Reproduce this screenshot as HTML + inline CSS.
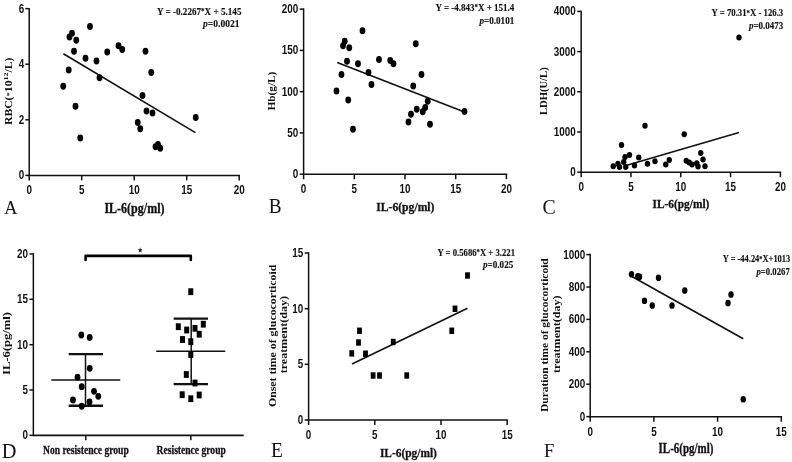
<!DOCTYPE html>
<html><head><meta charset="utf-8"><style>
html,body{margin:0;padding:0;background:#fff;}
svg{display:block;will-change:transform;}
</style></head><body>
<svg width="792" height="462" viewBox="0 0 792 462">
<rect width="792" height="462" fill="#fff"/>
<line x1="29.2" y1="7.9" x2="29.2" y2="176.15" stroke="#111" stroke-width="1.5"/>
<line x1="25.3" y1="8.65" x2="29.2" y2="8.65" stroke="#111" stroke-width="1.5"/>
<text x="24.2" y="12.55" text-anchor="end" style="font-family:'Liberation Sans', sans-serif;font-weight:bold;font-style:normal;font-size:12.8px" fill="#111" textLength="5.5" lengthAdjust="spacingAndGlyphs">6</text>
<line x1="25.3" y1="64.2" x2="29.2" y2="64.2" stroke="#111" stroke-width="1.5"/>
<text x="24.2" y="68.1" text-anchor="end" style="font-family:'Liberation Sans', sans-serif;font-weight:bold;font-style:normal;font-size:12.8px" fill="#111" textLength="5.5" lengthAdjust="spacingAndGlyphs">4</text>
<line x1="25.3" y1="119.8" x2="29.2" y2="119.8" stroke="#111" stroke-width="1.5"/>
<text x="24.2" y="123.7" text-anchor="end" style="font-family:'Liberation Sans', sans-serif;font-weight:bold;font-style:normal;font-size:12.8px" fill="#111" textLength="5.5" lengthAdjust="spacingAndGlyphs">2</text>
<line x1="25.3" y1="175.4" x2="29.2" y2="175.4" stroke="#111" stroke-width="1.5"/>
<text x="24.2" y="179.3" text-anchor="end" style="font-family:'Liberation Sans', sans-serif;font-weight:bold;font-style:normal;font-size:12.8px" fill="#111" textLength="5.5" lengthAdjust="spacingAndGlyphs">0</text>
<line x1="28.45" y1="175.4" x2="239.95" y2="175.4" stroke="#111" stroke-width="1.5"/>
<line x1="29.2" y1="175.4" x2="29.2" y2="180.4" stroke="#111" stroke-width="1.5"/>
<text x="29.2" y="194.4" text-anchor="middle" style="font-family:'Liberation Sans', sans-serif;font-weight:bold;font-style:normal;font-size:12.8px" fill="#111" textLength="5.5" lengthAdjust="spacingAndGlyphs">0</text>
<line x1="81.7" y1="175.4" x2="81.7" y2="180.4" stroke="#111" stroke-width="1.5"/>
<text x="81.7" y="194.4" text-anchor="middle" style="font-family:'Liberation Sans', sans-serif;font-weight:bold;font-style:normal;font-size:12.8px" fill="#111" textLength="5.5" lengthAdjust="spacingAndGlyphs">5</text>
<line x1="134.2" y1="175.4" x2="134.2" y2="180.4" stroke="#111" stroke-width="1.5"/>
<text x="134.2" y="194.4" text-anchor="middle" style="font-family:'Liberation Sans', sans-serif;font-weight:bold;font-style:normal;font-size:12.8px" fill="#111" textLength="11.0" lengthAdjust="spacingAndGlyphs">10</text>
<line x1="186.7" y1="175.4" x2="186.7" y2="180.4" stroke="#111" stroke-width="1.5"/>
<text x="186.7" y="194.4" text-anchor="middle" style="font-family:'Liberation Sans', sans-serif;font-weight:bold;font-style:normal;font-size:12.8px" fill="#111" textLength="11.0" lengthAdjust="spacingAndGlyphs">15</text>
<line x1="239.2" y1="175.4" x2="239.2" y2="180.4" stroke="#111" stroke-width="1.5"/>
<text x="239.2" y="194.4" text-anchor="middle" style="font-family:'Liberation Sans', sans-serif;font-weight:bold;font-style:normal;font-size:12.8px" fill="#111" textLength="11.0" lengthAdjust="spacingAndGlyphs">20</text>
<line x1="63.4" y1="53.7" x2="195.4" y2="132.6" stroke="#111" stroke-width="1.6"/>
<ellipse cx="63.25" cy="86.25" rx="2.9" ry="3.4" fill="#000"/>
<ellipse cx="68.75" cy="70" rx="2.9" ry="3.4" fill="#000"/>
<ellipse cx="69.5" cy="37" rx="2.9" ry="3.4" fill="#000"/>
<ellipse cx="72" cy="33.25" rx="2.9" ry="3.4" fill="#000"/>
<ellipse cx="76.25" cy="40.25" rx="2.9" ry="3.4" fill="#000"/>
<ellipse cx="74" cy="51.25" rx="2.9" ry="3.4" fill="#000"/>
<ellipse cx="75.5" cy="106.25" rx="2.9" ry="3.4" fill="#000"/>
<ellipse cx="90" cy="26.5" rx="2.9" ry="3.4" fill="#000"/>
<ellipse cx="85.5" cy="58.25" rx="2.9" ry="3.4" fill="#000"/>
<ellipse cx="96.5" cy="61" rx="2.9" ry="3.4" fill="#000"/>
<ellipse cx="99.5" cy="77.75" rx="2.9" ry="3.4" fill="#000"/>
<ellipse cx="107.25" cy="52" rx="2.9" ry="3.4" fill="#000"/>
<ellipse cx="118.5" cy="45.75" rx="2.9" ry="3.4" fill="#000"/>
<ellipse cx="122.25" cy="49.5" rx="2.9" ry="3.4" fill="#000"/>
<ellipse cx="145.5" cy="51.25" rx="2.9" ry="3.4" fill="#000"/>
<ellipse cx="151.25" cy="72.5" rx="2.9" ry="3.4" fill="#000"/>
<ellipse cx="142.5" cy="95.5" rx="2.9" ry="3.4" fill="#000"/>
<ellipse cx="146.5" cy="111" rx="2.9" ry="3.4" fill="#000"/>
<ellipse cx="152.5" cy="113" rx="2.9" ry="3.4" fill="#000"/>
<ellipse cx="80.25" cy="138" rx="2.9" ry="3.4" fill="#000"/>
<ellipse cx="137.75" cy="122.5" rx="2.9" ry="3.4" fill="#000"/>
<ellipse cx="140.25" cy="128.75" rx="2.9" ry="3.4" fill="#000"/>
<ellipse cx="155.5" cy="146.75" rx="2.9" ry="3.4" fill="#000"/>
<ellipse cx="158" cy="144.5" rx="2.9" ry="3.4" fill="#000"/>
<ellipse cx="160.25" cy="148.25" rx="2.9" ry="3.4" fill="#000"/>
<ellipse cx="195.75" cy="117.5" rx="2.9" ry="3.4" fill="#000"/>
<text x="4.3" y="214.3" text-anchor="start" style="font-family:'Liberation Serif', serif;font-weight:normal;font-style:normal;font-size:19.5px" fill="#111" textLength="13.2" lengthAdjust="spacingAndGlyphs">A</text>
<text x="104.4" y="212.7" text-anchor="start" style="font-family:'Liberation Serif', serif;font-weight:bold;font-style:normal;font-size:14.2px" fill="#111" textLength="60.1" lengthAdjust="spacingAndGlyphs" stroke="#111" stroke-width="0.3">IL-6(pg/ml)</text>
<text x="156.9" y="14.7" style="font-family:'Liberation Serif', serif;font-weight:bold;font-size:10.6px" fill="#111" stroke="#111" stroke-width="0.15" textLength="84.6" lengthAdjust="spacingAndGlyphs">Y = -0.2267<tspan style="font-size:8px" dy="-0.6">*</tspan><tspan dy="0.6">X + 5.145</tspan></text>
<text x="203" y="27.3" style="font-family:'Liberation Serif', serif;font-weight:bold;font-size:10.6px" fill="#111" stroke="#111" stroke-width="0.15" textLength="36.6" lengthAdjust="spacingAndGlyphs"><tspan style="font-style:italic">p</tspan>=0.0021</text>
<text transform="translate(12.0,91.3) rotate(-90)" text-anchor="middle" style="font-family:'Liberation Serif', serif;font-weight:bold;font-size:9.5px" fill="#111" textLength="67.5" lengthAdjust="spacingAndGlyphs">RBC(<tspan dy="-1" style="font-size:7px">*</tspan><tspan dy="1">10</tspan><tspan dy="-4" style="font-size:6.5px">12</tspan><tspan dy="4">/L)</tspan></text>
<line x1="303.6" y1="8.35" x2="303.6" y2="174.95" stroke="#111" stroke-width="1.5"/>
<line x1="299.7" y1="9.1" x2="303.6" y2="9.1" stroke="#111" stroke-width="1.5"/>
<text x="298.2" y="13.0" text-anchor="end" style="font-family:'Liberation Sans', sans-serif;font-weight:bold;font-style:normal;font-size:12.8px" fill="#111" textLength="16.5" lengthAdjust="spacingAndGlyphs">200</text>
<line x1="299.7" y1="50.4" x2="303.6" y2="50.4" stroke="#111" stroke-width="1.5"/>
<text x="298.2" y="54.3" text-anchor="end" style="font-family:'Liberation Sans', sans-serif;font-weight:bold;font-style:normal;font-size:12.8px" fill="#111" textLength="16.5" lengthAdjust="spacingAndGlyphs">150</text>
<line x1="299.7" y1="91.65" x2="303.6" y2="91.65" stroke="#111" stroke-width="1.5"/>
<text x="298.2" y="95.55" text-anchor="end" style="font-family:'Liberation Sans', sans-serif;font-weight:bold;font-style:normal;font-size:12.8px" fill="#111" textLength="16.5" lengthAdjust="spacingAndGlyphs">100</text>
<line x1="299.7" y1="132.9" x2="303.6" y2="132.9" stroke="#111" stroke-width="1.5"/>
<text x="298.2" y="136.8" text-anchor="end" style="font-family:'Liberation Sans', sans-serif;font-weight:bold;font-style:normal;font-size:12.8px" fill="#111" textLength="11.0" lengthAdjust="spacingAndGlyphs">50</text>
<line x1="299.7" y1="174.2" x2="303.6" y2="174.2" stroke="#111" stroke-width="1.5"/>
<text x="298.2" y="178.1" text-anchor="end" style="font-family:'Liberation Sans', sans-serif;font-weight:bold;font-style:normal;font-size:12.8px" fill="#111" textLength="5.5" lengthAdjust="spacingAndGlyphs">0</text>
<line x1="302.85" y1="174.2" x2="507.15" y2="174.2" stroke="#111" stroke-width="1.5"/>
<line x1="303.6" y1="174.2" x2="303.6" y2="179.2" stroke="#111" stroke-width="1.5"/>
<text x="303.6" y="193.2" text-anchor="middle" style="font-family:'Liberation Sans', sans-serif;font-weight:bold;font-style:normal;font-size:12.8px" fill="#111" textLength="5.5" lengthAdjust="spacingAndGlyphs">0</text>
<line x1="354.3" y1="174.2" x2="354.3" y2="179.2" stroke="#111" stroke-width="1.5"/>
<text x="354.3" y="193.2" text-anchor="middle" style="font-family:'Liberation Sans', sans-serif;font-weight:bold;font-style:normal;font-size:12.8px" fill="#111" textLength="5.5" lengthAdjust="spacingAndGlyphs">5</text>
<line x1="405" y1="174.2" x2="405" y2="179.2" stroke="#111" stroke-width="1.5"/>
<text x="405" y="193.2" text-anchor="middle" style="font-family:'Liberation Sans', sans-serif;font-weight:bold;font-style:normal;font-size:12.8px" fill="#111" textLength="11.0" lengthAdjust="spacingAndGlyphs">10</text>
<line x1="455.7" y1="174.2" x2="455.7" y2="179.2" stroke="#111" stroke-width="1.5"/>
<text x="455.7" y="193.2" text-anchor="middle" style="font-family:'Liberation Sans', sans-serif;font-weight:bold;font-style:normal;font-size:12.8px" fill="#111" textLength="11.0" lengthAdjust="spacingAndGlyphs">15</text>
<line x1="506.4" y1="174.2" x2="506.4" y2="179.2" stroke="#111" stroke-width="1.5"/>
<text x="506.4" y="193.2" text-anchor="middle" style="font-family:'Liberation Sans', sans-serif;font-weight:bold;font-style:normal;font-size:12.8px" fill="#111" textLength="11.0" lengthAdjust="spacingAndGlyphs">20</text>
<line x1="337.25" y1="62.5" x2="462.5" y2="111.25" stroke="#111" stroke-width="1.6"/>
<ellipse cx="336.5" cy="91" rx="2.9" ry="3.4" fill="#000"/>
<ellipse cx="341.5" cy="74.5" rx="2.9" ry="3.4" fill="#000"/>
<ellipse cx="343" cy="45.75" rx="2.9" ry="3.4" fill="#000"/>
<ellipse cx="344.75" cy="41.25" rx="2.9" ry="3.4" fill="#000"/>
<ellipse cx="347" cy="61.25" rx="2.9" ry="3.4" fill="#000"/>
<ellipse cx="349.25" cy="47.75" rx="2.9" ry="3.4" fill="#000"/>
<ellipse cx="348.25" cy="100" rx="2.9" ry="3.4" fill="#000"/>
<ellipse cx="358" cy="63.75" rx="2.9" ry="3.4" fill="#000"/>
<ellipse cx="362.5" cy="30.75" rx="2.9" ry="3.4" fill="#000"/>
<ellipse cx="368.5" cy="72.5" rx="2.9" ry="3.4" fill="#000"/>
<ellipse cx="371.5" cy="84.5" rx="2.9" ry="3.4" fill="#000"/>
<ellipse cx="379" cy="59.5" rx="2.9" ry="3.4" fill="#000"/>
<ellipse cx="390.25" cy="60.5" rx="2.9" ry="3.4" fill="#000"/>
<ellipse cx="393.5" cy="63.75" rx="2.9" ry="3.4" fill="#000"/>
<ellipse cx="413.25" cy="86" rx="2.9" ry="3.4" fill="#000"/>
<ellipse cx="415.75" cy="43.75" rx="2.9" ry="3.4" fill="#000"/>
<ellipse cx="421.5" cy="74.5" rx="2.9" ry="3.4" fill="#000"/>
<ellipse cx="416.75" cy="109.25" rx="2.9" ry="3.4" fill="#000"/>
<ellipse cx="411" cy="114.25" rx="2.9" ry="3.4" fill="#000"/>
<ellipse cx="422.75" cy="111.75" rx="2.9" ry="3.4" fill="#000"/>
<ellipse cx="425.25" cy="107.5" rx="2.9" ry="3.4" fill="#000"/>
<ellipse cx="427.75" cy="101.25" rx="2.9" ry="3.4" fill="#000"/>
<ellipse cx="353" cy="129.25" rx="2.9" ry="3.4" fill="#000"/>
<ellipse cx="408.5" cy="122" rx="2.9" ry="3.4" fill="#000"/>
<ellipse cx="430" cy="124.25" rx="2.9" ry="3.4" fill="#000"/>
<ellipse cx="464.5" cy="111.5" rx="2.9" ry="3.4" fill="#000"/>
<text x="268.8" y="213.2" text-anchor="start" style="font-family:'Liberation Serif', serif;font-weight:normal;font-style:normal;font-size:20.9px" fill="#111" textLength="12.85" lengthAdjust="spacingAndGlyphs">B</text>
<text x="376.2" y="210.9" text-anchor="start" style="font-family:'Liberation Serif', serif;font-weight:bold;font-style:normal;font-size:13.4px" fill="#111" textLength="58.3" lengthAdjust="spacingAndGlyphs" stroke="#111" stroke-width="0.3">IL-6(pg/ml)</text>
<text x="435.5" y="10.9" style="font-family:'Liberation Serif', serif;font-weight:bold;font-size:10.6px" fill="#111" stroke="#111" stroke-width="0.15" textLength="78.75" lengthAdjust="spacingAndGlyphs">Y = -4.843<tspan style="font-size:8px" dy="-0.6">*</tspan><tspan dy="0.6">X + 151.4</tspan></text>
<text x="479.5" y="23.6" style="font-family:'Liberation Serif', serif;font-weight:bold;font-size:10.6px" fill="#111" stroke="#111" stroke-width="0.15" textLength="34.75" lengthAdjust="spacingAndGlyphs"><tspan style="font-style:italic">p</tspan>=0.0101</text>
<text transform="translate(275.3,91.1) rotate(-90)" text-anchor="middle" style="font-family:'Liberation Serif', serif;font-weight:bold;font-style:normal;font-size:9.6px" fill="#111" textLength="39" lengthAdjust="spacingAndGlyphs">Hb(g/L)</text>
<line x1="581.15" y1="10.65" x2="581.15" y2="172.9" stroke="#111" stroke-width="1.5"/>
<line x1="577.25" y1="11.4" x2="581.15" y2="11.4" stroke="#111" stroke-width="1.5"/>
<text x="575.75" y="15.3" text-anchor="end" style="font-family:'Liberation Sans', sans-serif;font-weight:bold;font-style:normal;font-size:12.8px" fill="#111" textLength="22.0" lengthAdjust="spacingAndGlyphs">4000</text>
<line x1="577.25" y1="51.6" x2="581.15" y2="51.6" stroke="#111" stroke-width="1.5"/>
<text x="575.75" y="55.5" text-anchor="end" style="font-family:'Liberation Sans', sans-serif;font-weight:bold;font-style:normal;font-size:12.8px" fill="#111" textLength="22.0" lengthAdjust="spacingAndGlyphs">3000</text>
<line x1="577.25" y1="91.8" x2="581.15" y2="91.8" stroke="#111" stroke-width="1.5"/>
<text x="575.75" y="95.7" text-anchor="end" style="font-family:'Liberation Sans', sans-serif;font-weight:bold;font-style:normal;font-size:12.8px" fill="#111" textLength="22.0" lengthAdjust="spacingAndGlyphs">2000</text>
<line x1="577.25" y1="132" x2="581.15" y2="132" stroke="#111" stroke-width="1.5"/>
<text x="575.75" y="135.9" text-anchor="end" style="font-family:'Liberation Sans', sans-serif;font-weight:bold;font-style:normal;font-size:12.8px" fill="#111" textLength="22.0" lengthAdjust="spacingAndGlyphs">1000</text>
<line x1="577.25" y1="172.15" x2="581.15" y2="172.15" stroke="#111" stroke-width="1.5"/>
<text x="575.75" y="176.05" text-anchor="end" style="font-family:'Liberation Sans', sans-serif;font-weight:bold;font-style:normal;font-size:12.8px" fill="#111" textLength="5.5" lengthAdjust="spacingAndGlyphs">0</text>
<line x1="580.4" y1="172.15" x2="781.15" y2="172.15" stroke="#111" stroke-width="1.5"/>
<line x1="581.15" y1="172.15" x2="581.15" y2="177.15" stroke="#111" stroke-width="1.5"/>
<text x="581.15" y="191.15" text-anchor="middle" style="font-family:'Liberation Sans', sans-serif;font-weight:bold;font-style:normal;font-size:12.8px" fill="#111" textLength="5.5" lengthAdjust="spacingAndGlyphs">0</text>
<line x1="630.95" y1="172.15" x2="630.95" y2="177.15" stroke="#111" stroke-width="1.5"/>
<text x="630.95" y="191.15" text-anchor="middle" style="font-family:'Liberation Sans', sans-serif;font-weight:bold;font-style:normal;font-size:12.8px" fill="#111" textLength="5.5" lengthAdjust="spacingAndGlyphs">5</text>
<line x1="680.75" y1="172.15" x2="680.75" y2="177.15" stroke="#111" stroke-width="1.5"/>
<text x="680.75" y="191.15" text-anchor="middle" style="font-family:'Liberation Sans', sans-serif;font-weight:bold;font-style:normal;font-size:12.8px" fill="#111" textLength="11.0" lengthAdjust="spacingAndGlyphs">10</text>
<line x1="730.55" y1="172.15" x2="730.55" y2="177.15" stroke="#111" stroke-width="1.5"/>
<text x="730.55" y="191.15" text-anchor="middle" style="font-family:'Liberation Sans', sans-serif;font-weight:bold;font-style:normal;font-size:12.8px" fill="#111" textLength="11.0" lengthAdjust="spacingAndGlyphs">15</text>
<line x1="780.4" y1="172.15" x2="780.4" y2="177.15" stroke="#111" stroke-width="1.5"/>
<text x="780.4" y="191.15" text-anchor="middle" style="font-family:'Liberation Sans', sans-serif;font-weight:bold;font-style:normal;font-size:12.8px" fill="#111" textLength="11.0" lengthAdjust="spacingAndGlyphs">20</text>
<line x1="626" y1="165.5" x2="739" y2="132.5" stroke="#111" stroke-width="1.6"/>
<ellipse cx="613.25" cy="166.25" rx="2.7" ry="3.0" fill="#000"/>
<ellipse cx="618" cy="163.75" rx="2.7" ry="3.0" fill="#000"/>
<ellipse cx="619.5" cy="167" rx="2.7" ry="3.0" fill="#000"/>
<ellipse cx="621.5" cy="145" rx="2.7" ry="3.0" fill="#000"/>
<ellipse cx="623.75" cy="162" rx="2.7" ry="3.0" fill="#000"/>
<ellipse cx="625" cy="157" rx="2.7" ry="3.0" fill="#000"/>
<ellipse cx="625.75" cy="167" rx="2.7" ry="3.0" fill="#000"/>
<ellipse cx="629.5" cy="155" rx="2.7" ry="3.0" fill="#000"/>
<ellipse cx="634.5" cy="165.5" rx="2.7" ry="3.0" fill="#000"/>
<ellipse cx="638.75" cy="157.5" rx="2.7" ry="3.0" fill="#000"/>
<ellipse cx="645" cy="125.75" rx="2.7" ry="3.0" fill="#000"/>
<ellipse cx="647.5" cy="163.75" rx="2.7" ry="3.0" fill="#000"/>
<ellipse cx="655" cy="161.25" rx="2.7" ry="3.0" fill="#000"/>
<ellipse cx="665.75" cy="164.5" rx="2.7" ry="3.0" fill="#000"/>
<ellipse cx="669.25" cy="160" rx="2.7" ry="3.0" fill="#000"/>
<ellipse cx="684.25" cy="134.25" rx="2.7" ry="3.0" fill="#000"/>
<ellipse cx="686.25" cy="160.75" rx="2.7" ry="3.0" fill="#000"/>
<ellipse cx="689.25" cy="162.5" rx="2.7" ry="3.0" fill="#000"/>
<ellipse cx="692" cy="164.5" rx="2.7" ry="3.0" fill="#000"/>
<ellipse cx="696.8" cy="163.3" rx="2.7" ry="3.0" fill="#000"/>
<ellipse cx="698" cy="166.6" rx="2.7" ry="3.0" fill="#000"/>
<ellipse cx="700.75" cy="153" rx="2.7" ry="3.0" fill="#000"/>
<ellipse cx="703" cy="159.5" rx="2.7" ry="3.0" fill="#000"/>
<ellipse cx="705" cy="166.25" rx="2.7" ry="3.0" fill="#000"/>
<ellipse cx="739" cy="37.5" rx="2.7" ry="3.0" fill="#000"/>
<text x="542.6" y="213.9" text-anchor="start" style="font-family:'Liberation Serif', serif;font-weight:normal;font-style:normal;font-size:20.5px" fill="#111" textLength="13.2" lengthAdjust="spacingAndGlyphs">C</text>
<text x="652.5" y="207.9" text-anchor="start" style="font-family:'Liberation Serif', serif;font-weight:bold;font-style:normal;font-size:13.0px" fill="#111" textLength="56.9" lengthAdjust="spacingAndGlyphs" stroke="#111" stroke-width="0.3">IL-6(pg/ml)</text>
<text x="711.5" y="16.45" style="font-family:'Liberation Serif', serif;font-weight:bold;font-size:10.6px" fill="#111" stroke="#111" stroke-width="0.15" textLength="71.75" lengthAdjust="spacingAndGlyphs">Y = 70.31<tspan style="font-size:8px" dy="-0.6">*</tspan><tspan dy="0.6">X - 126.3</tspan></text>
<text x="749" y="28.7" style="font-family:'Liberation Serif', serif;font-weight:bold;font-size:10.6px" fill="#111" stroke="#111" stroke-width="0.15" textLength="34.25" lengthAdjust="spacingAndGlyphs"><tspan style="font-style:italic">p</tspan>=0.0473</text>
<text transform="translate(547.0,91.2) rotate(-90)" text-anchor="middle" style="font-family:'Liberation Serif', serif;font-weight:bold;font-style:normal;font-size:9.5px" fill="#111" textLength="47.7" lengthAdjust="spacingAndGlyphs">LDH(U/L)</text>
<line x1="33.35" y1="253.25" x2="33.35" y2="436.1" stroke="#111" stroke-width="1.5"/>
<line x1="29.45" y1="254" x2="33.35" y2="254" stroke="#111" stroke-width="1.5"/>
<text x="27.95" y="257.9" text-anchor="end" style="font-family:'Liberation Sans', sans-serif;font-weight:bold;font-style:normal;font-size:12.8px" fill="#111" textLength="11.0" lengthAdjust="spacingAndGlyphs">20</text>
<line x1="29.45" y1="299.3" x2="33.35" y2="299.3" stroke="#111" stroke-width="1.5"/>
<text x="27.95" y="303.2" text-anchor="end" style="font-family:'Liberation Sans', sans-serif;font-weight:bold;font-style:normal;font-size:12.8px" fill="#111" textLength="11.0" lengthAdjust="spacingAndGlyphs">15</text>
<line x1="29.45" y1="344.7" x2="33.35" y2="344.7" stroke="#111" stroke-width="1.5"/>
<text x="27.95" y="348.6" text-anchor="end" style="font-family:'Liberation Sans', sans-serif;font-weight:bold;font-style:normal;font-size:12.8px" fill="#111" textLength="11.0" lengthAdjust="spacingAndGlyphs">10</text>
<line x1="29.45" y1="390" x2="33.35" y2="390" stroke="#111" stroke-width="1.5"/>
<text x="27.95" y="393.9" text-anchor="end" style="font-family:'Liberation Sans', sans-serif;font-weight:bold;font-style:normal;font-size:12.8px" fill="#111" textLength="5.5" lengthAdjust="spacingAndGlyphs">5</text>
<line x1="29.45" y1="435.35" x2="33.35" y2="435.35" stroke="#111" stroke-width="1.5"/>
<text x="27.95" y="439.25" text-anchor="end" style="font-family:'Liberation Sans', sans-serif;font-weight:bold;font-style:normal;font-size:12.8px" fill="#111" textLength="5.5" lengthAdjust="spacingAndGlyphs">0</text>
<line x1="33" y1="435.35" x2="243.7" y2="435.35" stroke="#111" stroke-width="1.7"/>
<line x1="85.8" y1="435.35" x2="85.8" y2="440.2" stroke="#111" stroke-width="1.5"/>
<line x1="190.8" y1="435.35" x2="190.8" y2="440.2" stroke="#111" stroke-width="1.5"/>
<path d="M85.6,260 V255.9 H190.8 V260" fill="none" stroke="#000" stroke-width="2.6" stroke-linejoin="round" stroke-linecap="round"/>
<polygon points="140.20,247.14 140.84,249.23 142.68,249.32 141.24,250.71 141.74,252.86 140.20,251.62 138.66,252.86 139.16,250.71 137.72,249.32 139.56,249.23" fill="#222"/>
<line x1="85.5" y1="354.2" x2="85.5" y2="405.75" stroke="#111" stroke-width="1.5"/>
<line x1="68.7" y1="354.2" x2="103" y2="354.2" stroke="#111" stroke-width="2.3"/>
<line x1="68.7" y1="405.75" x2="103" y2="405.75" stroke="#111" stroke-width="2.3"/>
<line x1="51.3" y1="380" x2="120.3" y2="380" stroke="#111" stroke-width="1.6"/>
<ellipse cx="81.3" cy="335" rx="2.9" ry="3.4" fill="#000"/>
<ellipse cx="89.7" cy="337.5" rx="2.9" ry="3.4" fill="#000"/>
<ellipse cx="89.7" cy="368.3" rx="2.9" ry="3.4" fill="#000"/>
<ellipse cx="77.5" cy="377.2" rx="2.9" ry="3.4" fill="#000"/>
<ellipse cx="81.7" cy="386.7" rx="2.9" ry="3.4" fill="#000"/>
<ellipse cx="94" cy="391.3" rx="2.9" ry="3.4" fill="#000"/>
<ellipse cx="98.3" cy="396.3" rx="2.9" ry="3.4" fill="#000"/>
<ellipse cx="73" cy="400" rx="2.9" ry="3.4" fill="#000"/>
<ellipse cx="89.5" cy="402" rx="2.9" ry="3.4" fill="#000"/>
<ellipse cx="81.75" cy="406.25" rx="2.9" ry="3.4" fill="#000"/>
<line x1="191.2" y1="318.7" x2="191.2" y2="384.2" stroke="#111" stroke-width="1.5"/>
<line x1="173.7" y1="318.7" x2="208" y2="318.7" stroke="#111" stroke-width="2.3"/>
<line x1="173.7" y1="384.2" x2="208" y2="384.2" stroke="#111" stroke-width="2.3"/>
<line x1="156.3" y1="351.3" x2="225.3" y2="351.3" stroke="#111" stroke-width="1.6"/>
<rect x="188.30" y="288.30" width="5.0" height="6.8" fill="#000"/>
<rect x="175.80" y="323.30" width="5.0" height="6.8" fill="#000"/>
<rect x="184.20" y="326.60" width="5.0" height="6.8" fill="#000"/>
<rect x="192.50" y="324.90" width="5.0" height="6.8" fill="#000"/>
<rect x="200.80" y="320.80" width="5.0" height="6.8" fill="#000"/>
<rect x="196.70" y="330.80" width="5.0" height="6.8" fill="#000"/>
<rect x="180.00" y="336.10" width="5.0" height="6.8" fill="#000"/>
<rect x="188.30" y="338.30" width="5.0" height="6.8" fill="#000"/>
<rect x="188.30" y="351.10" width="5.0" height="6.8" fill="#000"/>
<rect x="183.80" y="371.10" width="5.0" height="6.8" fill="#000"/>
<rect x="192.50" y="379.60" width="5.0" height="6.8" fill="#000"/>
<rect x="179.70" y="391.30" width="5.0" height="6.8" fill="#000"/>
<rect x="188.30" y="395.30" width="5.0" height="6.8" fill="#000"/>
<rect x="196.70" y="391.60" width="5.0" height="6.8" fill="#000"/>
<text x="1.8" y="457.6" text-anchor="start" style="font-family:'Liberation Serif', serif;font-weight:normal;font-style:normal;font-size:20.4px" fill="#111" textLength="14.7" lengthAdjust="spacingAndGlyphs">D</text>
<text x="43" y="453.5" text-anchor="start" style="font-family:'Liberation Serif', serif;font-weight:bold;font-style:normal;font-size:12.5px" fill="#111" textLength="85.75" lengthAdjust="spacingAndGlyphs" stroke="#111" stroke-width="0.3">Non resistence group</text>
<text x="156.6" y="453.5" text-anchor="start" style="font-family:'Liberation Serif', serif;font-weight:bold;font-style:normal;font-size:12.5px" fill="#111" textLength="69.2" lengthAdjust="spacingAndGlyphs" stroke="#111" stroke-width="0.3">Resistence group</text>
<text transform="translate(9.6,343.5) rotate(-90)" text-anchor="middle" style="font-family:'Liberation Serif', serif;font-weight:bold;font-style:normal;font-size:9.8px" fill="#111" textLength="63" lengthAdjust="spacingAndGlyphs">IL-6(pg/ml)</text>
<line x1="308.6" y1="252.25" x2="308.6" y2="420.75" stroke="#111" stroke-width="1.5"/>
<line x1="304.7" y1="253" x2="308.6" y2="253" stroke="#111" stroke-width="1.5"/>
<text x="303.2" y="256.9" text-anchor="end" style="font-family:'Liberation Sans', sans-serif;font-weight:bold;font-style:normal;font-size:12.8px" fill="#111" textLength="11.0" lengthAdjust="spacingAndGlyphs">15</text>
<line x1="304.7" y1="308.7" x2="308.6" y2="308.7" stroke="#111" stroke-width="1.5"/>
<text x="303.2" y="312.6" text-anchor="end" style="font-family:'Liberation Sans', sans-serif;font-weight:bold;font-style:normal;font-size:12.8px" fill="#111" textLength="11.0" lengthAdjust="spacingAndGlyphs">10</text>
<line x1="304.7" y1="364.3" x2="308.6" y2="364.3" stroke="#111" stroke-width="1.5"/>
<text x="303.2" y="368.2" text-anchor="end" style="font-family:'Liberation Sans', sans-serif;font-weight:bold;font-style:normal;font-size:12.8px" fill="#111" textLength="5.5" lengthAdjust="spacingAndGlyphs">5</text>
<line x1="304.7" y1="420" x2="308.6" y2="420" stroke="#111" stroke-width="1.5"/>
<text x="303.2" y="423.9" text-anchor="end" style="font-family:'Liberation Sans', sans-serif;font-weight:bold;font-style:normal;font-size:12.8px" fill="#111" textLength="5.5" lengthAdjust="spacingAndGlyphs">0</text>
<line x1="307.85" y1="420" x2="507.95" y2="420" stroke="#111" stroke-width="1.5"/>
<line x1="308.6" y1="420" x2="308.6" y2="425.0" stroke="#111" stroke-width="1.5"/>
<text x="308.6" y="439" text-anchor="middle" style="font-family:'Liberation Sans', sans-serif;font-weight:bold;font-style:normal;font-size:12.8px" fill="#111" textLength="5.5" lengthAdjust="spacingAndGlyphs">0</text>
<line x1="374.8" y1="420" x2="374.8" y2="425.0" stroke="#111" stroke-width="1.5"/>
<text x="374.8" y="439" text-anchor="middle" style="font-family:'Liberation Sans', sans-serif;font-weight:bold;font-style:normal;font-size:12.8px" fill="#111" textLength="5.5" lengthAdjust="spacingAndGlyphs">5</text>
<line x1="441" y1="420" x2="441" y2="425.0" stroke="#111" stroke-width="1.5"/>
<text x="441" y="439" text-anchor="middle" style="font-family:'Liberation Sans', sans-serif;font-weight:bold;font-style:normal;font-size:12.8px" fill="#111" textLength="11.0" lengthAdjust="spacingAndGlyphs">10</text>
<line x1="507.2" y1="420" x2="507.2" y2="425.0" stroke="#111" stroke-width="1.5"/>
<text x="507.2" y="439" text-anchor="middle" style="font-family:'Liberation Sans', sans-serif;font-weight:bold;font-style:normal;font-size:12.8px" fill="#111" textLength="11.0" lengthAdjust="spacingAndGlyphs">15</text>
<line x1="352" y1="364" x2="467.5" y2="308.25" stroke="#111" stroke-width="1.6"/>
<rect x="349.35" y="350.20" width="4.8" height="6.4" fill="#000"/>
<rect x="356.10" y="339.30" width="4.8" height="6.4" fill="#000"/>
<rect x="363.10" y="350.50" width="4.8" height="6.4" fill="#000"/>
<rect x="370.70" y="372.30" width="4.8" height="6.4" fill="#000"/>
<rect x="377.10" y="372.30" width="4.8" height="6.4" fill="#000"/>
<rect x="390.85" y="338.80" width="4.8" height="6.4" fill="#000"/>
<rect x="404.35" y="372.30" width="4.8" height="6.4" fill="#000"/>
<rect x="357.10" y="327.55" width="4.8" height="6.4" fill="#000"/>
<rect x="449.35" y="327.55" width="4.8" height="6.4" fill="#000"/>
<rect x="452.60" y="305.55" width="4.8" height="6.4" fill="#000"/>
<rect x="465.10" y="272.30" width="4.8" height="6.4" fill="#000"/>
<text x="270.9" y="456.6" text-anchor="start" style="font-family:'Liberation Serif', serif;font-weight:normal;font-style:normal;font-size:20.3px" fill="#111" textLength="11.9" lengthAdjust="spacingAndGlyphs">E</text>
<text x="379.9" y="456.8" text-anchor="start" style="font-family:'Liberation Serif', serif;font-weight:bold;font-style:normal;font-size:13.5px" fill="#111" textLength="57.0" lengthAdjust="spacingAndGlyphs" stroke="#111" stroke-width="0.3">IL-6(pg/ml)</text>
<text x="437.5" y="255.95" style="font-family:'Liberation Serif', serif;font-weight:bold;font-size:10.6px" fill="#111" stroke="#111" stroke-width="0.15" textLength="77.5" lengthAdjust="spacingAndGlyphs">Y = 0.5686<tspan style="font-size:8px" dy="-0.6">*</tspan><tspan dy="0.6">X + 3.221</tspan></text>
<text x="483" y="268.2" style="font-family:'Liberation Serif', serif;font-weight:bold;font-size:10.6px" fill="#111" stroke="#111" stroke-width="0.15" textLength="30.25" lengthAdjust="spacingAndGlyphs"><tspan style="font-style:italic">p</tspan>=0.025</text>
<text transform="translate(275.9,335.9) rotate(-90)" text-anchor="middle" style="font-family:'Liberation Serif', serif;font-weight:bold;font-style:normal;font-size:10.5px" fill="#111" textLength="142.3" lengthAdjust="spacingAndGlyphs">Onset time of glucocorticoid</text>
<text transform="translate(286.5,334.6) rotate(-90)" text-anchor="middle" style="font-family:'Liberation Serif', serif;font-weight:bold;font-style:normal;font-size:10.5px" fill="#111" textLength="77.4" lengthAdjust="spacingAndGlyphs">treatment(day)</text>
<line x1="590.2" y1="253.85" x2="590.2" y2="417.4" stroke="#111" stroke-width="1.5"/>
<line x1="586.3" y1="254.6" x2="590.2" y2="254.6" stroke="#111" stroke-width="1.5"/>
<text x="585.3" y="258.5" text-anchor="end" style="font-family:'Liberation Sans', sans-serif;font-weight:bold;font-style:normal;font-size:12.8px" fill="#111" textLength="22.0" lengthAdjust="spacingAndGlyphs">1000</text>
<line x1="586.3" y1="287" x2="590.2" y2="287" stroke="#111" stroke-width="1.5"/>
<text x="585.3" y="290.9" text-anchor="end" style="font-family:'Liberation Sans', sans-serif;font-weight:bold;font-style:normal;font-size:12.8px" fill="#111" textLength="16.5" lengthAdjust="spacingAndGlyphs">800</text>
<line x1="586.3" y1="319.4" x2="590.2" y2="319.4" stroke="#111" stroke-width="1.5"/>
<text x="585.3" y="323.3" text-anchor="end" style="font-family:'Liberation Sans', sans-serif;font-weight:bold;font-style:normal;font-size:12.8px" fill="#111" textLength="16.5" lengthAdjust="spacingAndGlyphs">600</text>
<line x1="586.3" y1="351.8" x2="590.2" y2="351.8" stroke="#111" stroke-width="1.5"/>
<text x="585.3" y="355.7" text-anchor="end" style="font-family:'Liberation Sans', sans-serif;font-weight:bold;font-style:normal;font-size:12.8px" fill="#111" textLength="16.5" lengthAdjust="spacingAndGlyphs">400</text>
<line x1="586.3" y1="384.2" x2="590.2" y2="384.2" stroke="#111" stroke-width="1.5"/>
<text x="585.3" y="388.1" text-anchor="end" style="font-family:'Liberation Sans', sans-serif;font-weight:bold;font-style:normal;font-size:12.8px" fill="#111" textLength="16.5" lengthAdjust="spacingAndGlyphs">200</text>
<line x1="586.3" y1="416.65" x2="590.2" y2="416.65" stroke="#111" stroke-width="1.5"/>
<text x="585.3" y="420.55" text-anchor="end" style="font-family:'Liberation Sans', sans-serif;font-weight:bold;font-style:normal;font-size:12.8px" fill="#111" textLength="5.5" lengthAdjust="spacingAndGlyphs">0</text>
<line x1="589.45" y1="416.65" x2="782.05" y2="416.65" stroke="#111" stroke-width="1.5"/>
<line x1="590.2" y1="416.65" x2="590.2" y2="421.65" stroke="#111" stroke-width="1.5"/>
<text x="590.2" y="435.65" text-anchor="middle" style="font-family:'Liberation Sans', sans-serif;font-weight:bold;font-style:normal;font-size:12.8px" fill="#111" textLength="5.5" lengthAdjust="spacingAndGlyphs">0</text>
<line x1="653.9" y1="416.65" x2="653.9" y2="421.65" stroke="#111" stroke-width="1.5"/>
<text x="653.9" y="435.65" text-anchor="middle" style="font-family:'Liberation Sans', sans-serif;font-weight:bold;font-style:normal;font-size:12.8px" fill="#111" textLength="5.5" lengthAdjust="spacingAndGlyphs">5</text>
<line x1="717.6" y1="416.65" x2="717.6" y2="421.65" stroke="#111" stroke-width="1.5"/>
<text x="717.6" y="435.65" text-anchor="middle" style="font-family:'Liberation Sans', sans-serif;font-weight:bold;font-style:normal;font-size:12.8px" fill="#111" textLength="11.0" lengthAdjust="spacingAndGlyphs">10</text>
<line x1="781.3" y1="416.65" x2="781.3" y2="421.65" stroke="#111" stroke-width="1.5"/>
<text x="781.3" y="435.65" text-anchor="middle" style="font-family:'Liberation Sans', sans-serif;font-weight:bold;font-style:normal;font-size:12.8px" fill="#111" textLength="11.0" lengthAdjust="spacingAndGlyphs">15</text>
<line x1="631.5" y1="276.25" x2="743.25" y2="338.75" stroke="#111" stroke-width="1.6"/>
<ellipse cx="631.5" cy="274.25" rx="2.7" ry="3.35" fill="#000"/>
<ellipse cx="637.75" cy="276.25" rx="2.7" ry="3.35" fill="#000"/>
<ellipse cx="639.5" cy="276.75" rx="2.7" ry="3.35" fill="#000"/>
<ellipse cx="658.5" cy="277.75" rx="2.7" ry="3.35" fill="#000"/>
<ellipse cx="644.5" cy="300.75" rx="2.7" ry="3.35" fill="#000"/>
<ellipse cx="652.25" cy="305.5" rx="2.7" ry="3.35" fill="#000"/>
<ellipse cx="672" cy="305.5" rx="2.7" ry="3.35" fill="#000"/>
<ellipse cx="684.75" cy="290.5" rx="2.7" ry="3.35" fill="#000"/>
<ellipse cx="731" cy="294.5" rx="2.7" ry="3.35" fill="#000"/>
<ellipse cx="728" cy="303" rx="2.7" ry="3.35" fill="#000"/>
<ellipse cx="743.25" cy="399.25" rx="2.7" ry="3.35" fill="#000"/>
<text x="543.9" y="457.2" text-anchor="start" style="font-family:'Liberation Serif', serif;font-weight:normal;font-style:normal;font-size:19.8px" fill="#111" textLength="10.3" lengthAdjust="spacingAndGlyphs">F</text>
<text x="658.6" y="452.7" text-anchor="start" style="font-family:'Liberation Serif', serif;font-weight:bold;font-style:normal;font-size:13.6px" fill="#111" textLength="54.8" lengthAdjust="spacingAndGlyphs" stroke="#111" stroke-width="0.3">IL-6(pg/ml)</text>
<text x="722.75" y="262.2" style="font-family:'Liberation Serif', serif;font-weight:bold;font-size:10.6px" fill="#111" stroke="#111" stroke-width="0.15" textLength="67.5" lengthAdjust="spacingAndGlyphs">Y = -44.24<tspan style="font-size:8px" dy="-0.6">*</tspan><tspan dy="0.6">X+1013</tspan></text>
<text x="756.5" y="274.7" style="font-family:'Liberation Serif', serif;font-weight:bold;font-size:10.6px" fill="#111" stroke="#111" stroke-width="0.15" textLength="33.25" lengthAdjust="spacingAndGlyphs"><tspan style="font-style:italic">p</tspan>=0.0267</text>
<text transform="translate(548.3,335.1) rotate(-90)" text-anchor="middle" style="font-family:'Liberation Serif', serif;font-weight:bold;font-style:normal;font-size:10.5px" fill="#111" textLength="153.6" lengthAdjust="spacingAndGlyphs">Duration time of glucocorticoid</text>
<text transform="translate(559.5,334.2) rotate(-90)" text-anchor="middle" style="font-family:'Liberation Serif', serif;font-weight:bold;font-style:normal;font-size:10.5px" fill="#111" textLength="77.5" lengthAdjust="spacingAndGlyphs">treatment(day)</text>
</svg>
</body></html>
